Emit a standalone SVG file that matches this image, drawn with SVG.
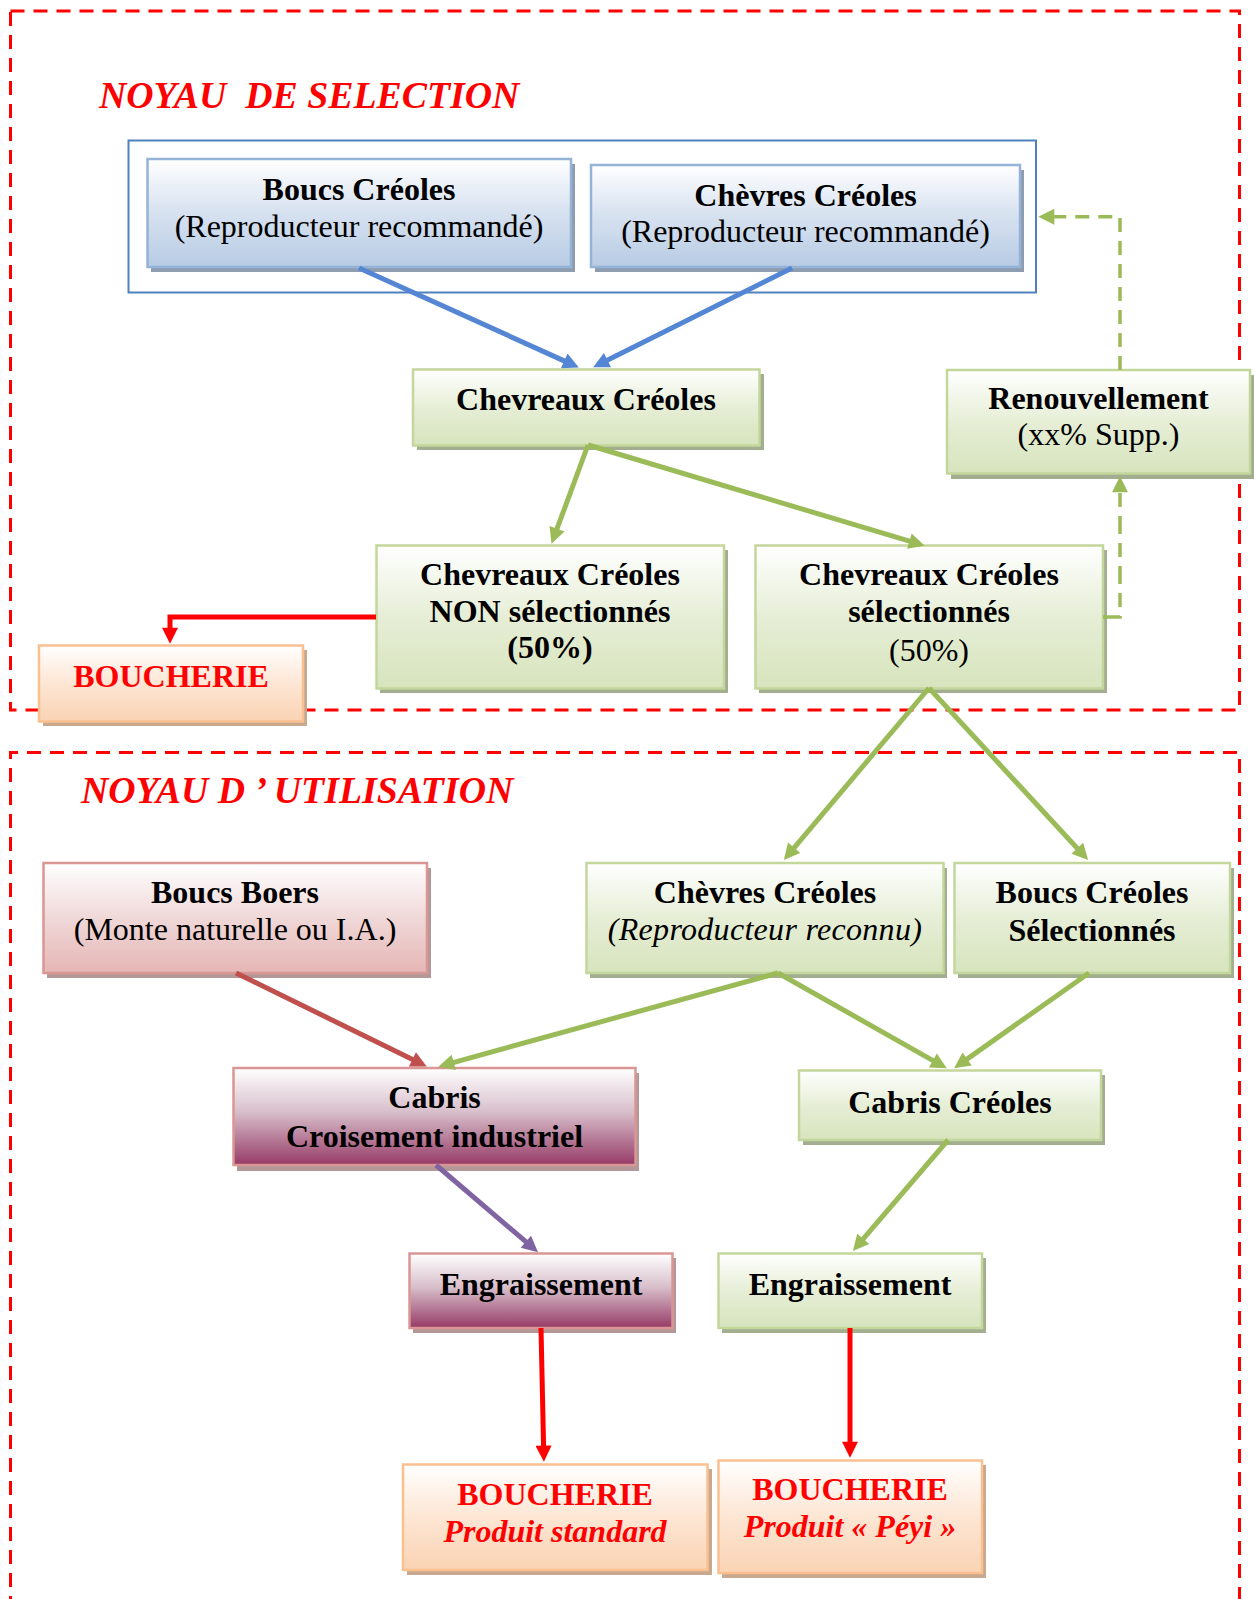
<svg xmlns="http://www.w3.org/2000/svg" width="1254" height="1599" viewBox="0 0 1254 1599">
<defs>
<style>
.t{font-family:"Liberation Serif","Times New Roman",serif;font-size:32px;text-anchor:middle;fill:#000}
.b{font-weight:bold}
.i{font-style:italic}
.red{fill:#ff0000}
.title{font-family:"Liberation Serif","Times New Roman",serif;font-size:37.8px;font-weight:bold;font-style:italic;fill:#ff0000;white-space:pre}
.zone{fill:none;stroke:#ff0000;stroke-width:3;stroke-dasharray:14 9}
.bx{stroke-width:2.5}
.blue{fill:url(#gBlue);stroke:#95b3d7}
.green{fill:url(#gGreen);stroke:#c3d69b}
.pink{fill:url(#gPink);stroke:#d99694}
.maroon{fill:url(#gMaroon);stroke:#d99694}
.orange{fill:url(#gOrange);stroke:#fac090}
.shB{fill:#8e9cb0}
.shG{fill:#a3ad8f}
.shP{fill:#b39897}
.shO{fill:#c8a98f}
.c{fill:none;stroke-width:5}
.cb{stroke:#5586d4}
.cg{stroke:#9bbb59}
.cr{stroke:#ff0000}
.cdr{stroke:#c0504d}
.cp{stroke:#8064a2}
.dash{fill:none;stroke:#9bbb59;stroke-width:3.5;stroke-dasharray:14 9}
</style>
<linearGradient id="gBlue" x1="0" y1="0" x2="0" y2="1"><stop offset="0" stop-color="#ffffff"/><stop offset="0.45" stop-color="#dae4f1"/><stop offset="1" stop-color="#b7cbe4"/></linearGradient>
<linearGradient id="gGreen" x1="0" y1="0" x2="0" y2="1"><stop offset="0" stop-color="#ffffff"/><stop offset="0.5" stop-color="#e6eed6"/><stop offset="1" stop-color="#d7e4bd"/></linearGradient>
<linearGradient id="gPink" x1="0" y1="0" x2="0" y2="1"><stop offset="0" stop-color="#ffffff"/><stop offset="0.5" stop-color="#f0d8d8"/><stop offset="1" stop-color="#e5b6b5"/></linearGradient>
<linearGradient id="gMaroon" x1="0" y1="0" x2="0" y2="1"><stop offset="0" stop-color="#ffffff"/><stop offset="0.45" stop-color="#d8bfcb"/><stop offset="1" stop-color="#963a66"/></linearGradient>
<linearGradient id="gOrange" x1="0" y1="0" x2="0" y2="1"><stop offset="0" stop-color="#ffffff"/><stop offset="0.5" stop-color="#fde6d4"/><stop offset="1" stop-color="#fad3b3"/></linearGradient>
<marker id="aB" viewBox="0 0 10 10" refX="3.33" refY="5" markerWidth="18" markerHeight="16" markerUnits="userSpaceOnUse" orient="auto"><path d="M0,0 L10,5 L0,10 z" fill="#5586d4"/></marker>
<marker id="aG" viewBox="0 0 10 10" refX="3.33" refY="5" markerWidth="18" markerHeight="16" markerUnits="userSpaceOnUse" orient="auto"><path d="M0,0 L10,5 L0,10 z" fill="#9bbb59"/></marker>
<marker id="aR" viewBox="0 0 10 10" refX="3.33" refY="5" markerWidth="18" markerHeight="16" markerUnits="userSpaceOnUse" orient="auto"><path d="M0,0 L10,5 L0,10 z" fill="#ff0000"/></marker>
<marker id="aDR" viewBox="0 0 10 10" refX="3.33" refY="5" markerWidth="18" markerHeight="16" markerUnits="userSpaceOnUse" orient="auto"><path d="M0,0 L10,5 L0,10 z" fill="#c0504d"/></marker>
<marker id="aP" viewBox="0 0 10 10" refX="3.33" refY="5" markerWidth="18" markerHeight="16" markerUnits="userSpaceOnUse" orient="auto"><path d="M0,0 L10,5 L0,10 z" fill="#8064a2"/></marker>
</defs>
<rect width="1254" height="1599" fill="#ffffff"/>

<g id="zones">
<rect class="zone" x="10.5" y="11" width="1229" height="699"/>
<path class="zone" d="M10.5,1610 V752.5 H1239.5 V1610"/>
<text class="title" x="99" y="108">NOYAU  DE SELECTION</text>
<text class="title" x="81" y="803">NOYAU D ’ UTILISATION</text>
</g>

<g id="container-reproducteurs">
<rect x="128.5" y="140.5" width="907.5" height="152" fill="none" stroke="#4f81bd" stroke-width="2"/>
</g>

<g id="n-boucs-creoles">
<rect class="shB" x="151" y="164" width="424" height="108"/>
<rect class="bx blue" x="147.5" y="159" width="423.5" height="108"/>
<text class="t b" x="359" y="200">Boucs Créoles</text>
<text class="t" x="359" y="237">(Reproducteur recommandé)</text>
</g>

<g id="n-chevres-creoles">
<rect class="shB" x="595" y="170" width="429" height="102"/>
<rect class="bx blue" x="591" y="165" width="429" height="102"/>
<text class="t b" x="805.5" y="206">Chèvres Créoles</text>
<text class="t" x="805.5" y="242">(Reproducteur recommandé)</text>
</g>

<g id="n-chevreaux">
<rect class="shG" x="417" y="374" width="347" height="76"/>
<rect class="bx green" x="413" y="369.5" width="346.5" height="76"/>
<text class="t b" x="586" y="410">Chevreaux Créoles</text>
</g>

<g id="n-renouvellement">
<rect class="shG" x="951" y="375" width="303" height="104"/>
<rect class="bx green" x="947" y="370" width="303" height="103.5"/>
<text class="t b" x="1098.5" y="409">Renouvellement</text>
<text class="t" x="1098.5" y="445">(xx% Supp.)</text>
</g>

<g id="n-non-selectionnes">
<rect class="shG" x="380" y="550" width="348" height="143"/>
<rect class="bx green" x="376.5" y="545.5" width="347.5" height="143"/>
<text class="t b" x="550" y="585">Chevreaux Créoles</text>
<text class="t b" x="550" y="622">NON sélectionnés</text>
<text class="t b" x="550" y="658">(50%)</text>
</g>

<g id="n-selectionnes">
<rect class="shG" x="759" y="550" width="348" height="143"/>
<rect class="bx green" x="755.5" y="545.5" width="347.5" height="143"/>
<text class="t b" x="929" y="585">Chevreaux Créoles</text>
<text class="t b" x="929" y="622">sélectionnés</text>
<text class="t" x="929" y="661">(50%)</text>
</g>

<g id="n-boucherie-1">
<rect class="shO" x="43" y="650" width="264" height="76"/>
<rect class="bx orange" x="39" y="645.5" width="264" height="76"/>
<text class="t b red" x="171" y="687">BOUCHERIE</text>
</g>

<g id="n-boucs-boers">
<rect class="shP" x="47" y="868" width="384" height="110"/>
<rect class="bx pink" x="43.5" y="863" width="383.5" height="110"/>
<text class="t b" x="235" y="903">Boucs Boers</text>
<text class="t" x="235" y="940">(Monte naturelle ou I.A.)</text>
</g>

<g id="n-chevres-util">
<rect class="shG" x="590" y="868" width="357" height="110"/>
<rect class="bx green" x="586.5" y="863" width="357" height="110"/>
<text class="t b" x="765" y="903">Chèvres Créoles</text>
<text class="t i" x="765" y="940" style="letter-spacing:0.3px">(Reproducteur reconnu)</text>
</g>

<g id="n-boucs-selectionnes">
<rect class="shG" x="958" y="868" width="276" height="110"/>
<rect class="bx green" x="954.5" y="863" width="275.5" height="110"/>
<text class="t b" x="1092" y="903">Boucs Créoles</text>
<text class="t b" x="1092" y="941">Sélectionnés</text>
</g>

<g id="n-cabris-croisement">
<rect class="shP" x="237" y="1073" width="402" height="98"/>
<rect class="bx maroon" x="233.5" y="1068" width="402" height="97"/>
<text class="t b" x="434.5" y="1108">Cabris</text>
<text class="t b" x="434.5" y="1147">Croisement industriel</text>
</g>

<g id="n-cabris-creoles">
<rect class="shG" x="803" y="1075" width="302" height="70"/>
<rect class="bx green" x="799" y="1070.5" width="302" height="69.5"/>
<text class="t b" x="950" y="1113">Cabris Créoles</text>
</g>

<g id="n-engraissement-1">
<rect class="shP" x="413" y="1258" width="263" height="75"/>
<rect class="bx maroon" x="409.5" y="1253.5" width="263" height="74.5"/>
<text class="t b" x="541" y="1295">Engraissement</text>
</g>

<g id="n-engraissement-2">
<rect class="shG" x="722" y="1258" width="264" height="75"/>
<rect class="bx green" x="718.5" y="1253.5" width="263.5" height="74.5"/>
<text class="t b" x="850" y="1295">Engraissement</text>
</g>

<g id="n-boucherie-standard">
<rect class="shO" x="407" y="1469" width="305" height="106"/>
<rect class="bx orange" x="403" y="1464.5" width="304.5" height="105.5"/>
<text class="t b red" x="555" y="1505">BOUCHERIE</text>
<text class="t b i red" x="555" y="1542">Produit standard</text>
</g>

<g id="n-boucherie-peyi">
<rect class="shO" x="722" y="1465" width="264" height="113"/>
<rect class="bx orange" x="718.5" y="1460.5" width="263.5" height="112.5"/>
<text class="t b red" x="850" y="1500">BOUCHERIE</text>
<text class="t b i red" x="850" y="1537">Produit « Péyi »</text>
</g>

<g id="connectors">
<line class="c cb" x1="359" y1="268" x2="569.1" y2="363.1" marker-end="url(#aB)"/>
<line class="c cb" x1="792" y1="268" x2="602.7" y2="362.6" marker-end="url(#aB)"/>
<line class="c cg" x1="588" y1="445" x2="555.2" y2="533.7" marker-end="url(#aG)"/>
<line class="c cg" x1="588" y1="445" x2="914.5" y2="542.6" marker-end="url(#aG)"/>
<polyline class="c cr" points="376,617 170,617 170,633" marker-end="url(#aR)"/>
<polyline class="dash" points="1120,370 1120,216.7 1049,216.7" marker-end="url(#aG)"/>
<polyline class="dash" points="1103,617 1120,617 1120,487" marker-end="url(#aG)" style="stroke-dasharray:18 9 14 9"/>
<line class="c cg" x1="929" y1="688" x2="790.7" y2="851.8" marker-end="url(#aG)"/>
<line class="c cg" x1="929" y1="688" x2="1080.9" y2="852.2" marker-end="url(#aG)"/>
<line class="c cdr" x1="236" y1="973" x2="417.2" y2="1061.7" marker-end="url(#aDR)"/>
<line class="c cg" x1="778" y1="973" x2="448.6" y2="1063.8" marker-end="url(#aG)"/>
<line class="c cg" x1="778" y1="973" x2="937.5" y2="1063.1" marker-end="url(#aG)"/>
<line class="c cg" x1="1089" y1="973" x2="962.8" y2="1062.1" marker-end="url(#aG)"/>
<line class="c cg" x1="948" y1="1140" x2="859.8" y2="1242.9" marker-end="url(#aG)"/>
<line class="c cp" x1="436" y1="1165" x2="529.9" y2="1245.2" marker-end="url(#aP)"/>
<line class="c cr" x1="541" y1="1328" x2="543.7" y2="1451" marker-end="url(#aR)"/>
<line class="c cr" x1="850" y1="1328" x2="850" y2="1447" marker-end="url(#aR)"/>
</g>
</svg>
